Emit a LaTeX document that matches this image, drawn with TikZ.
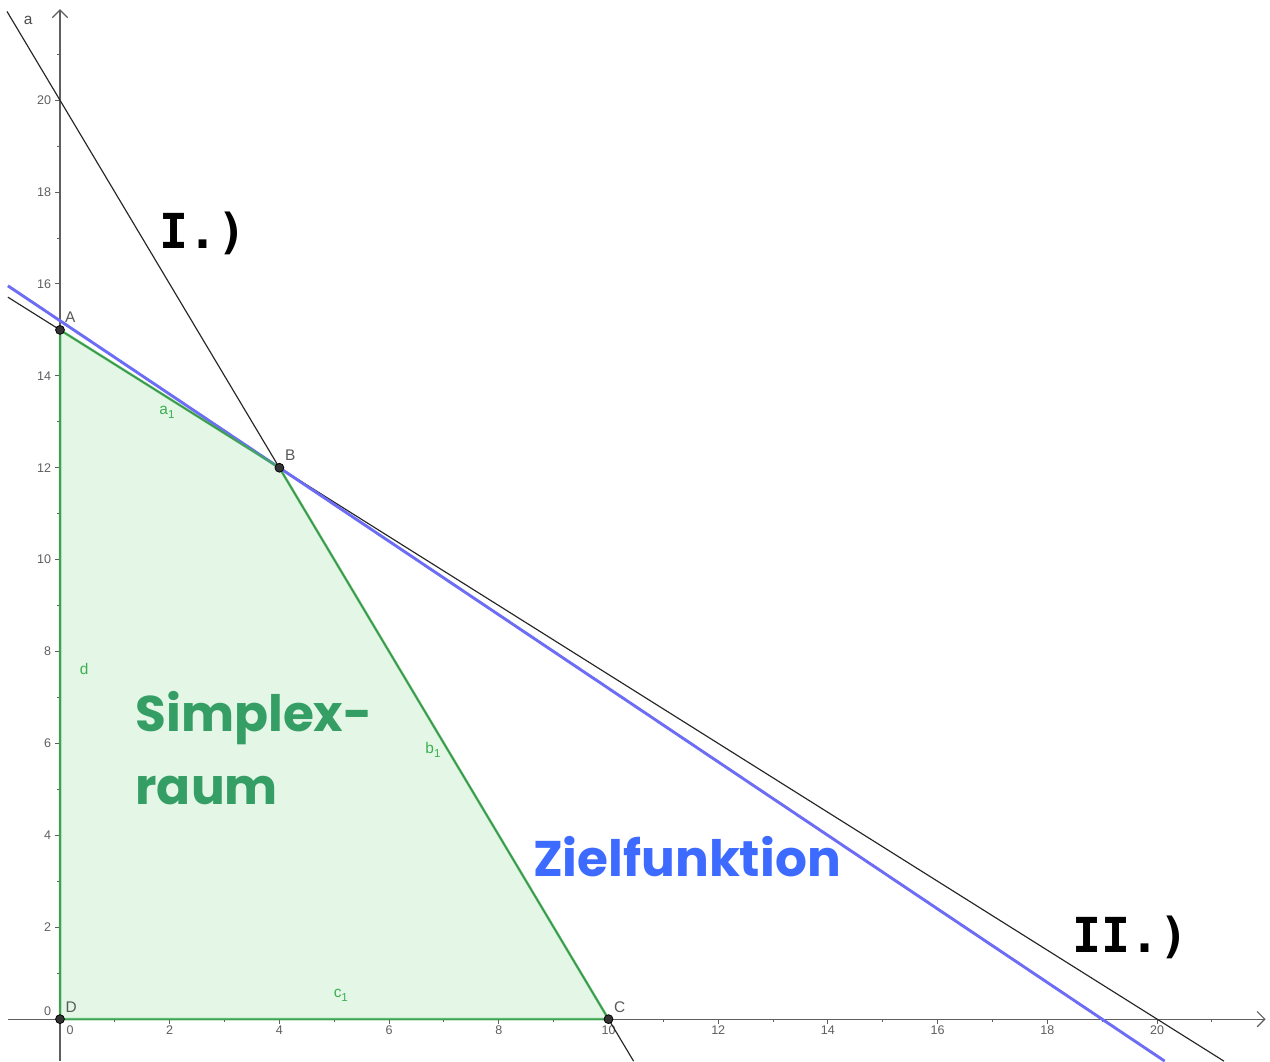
\documentclass[tikz,border=0pt]{standalone}
\usepackage{fontspec}
\setmainfont{Liberation Sans}
\newfontfamily\handfont{Poppins}
\newfontfamily\romfont{DejaVu Sans Mono}
\usepackage{xcolor}
\usepackage{tikz}
\usetikzlibrary{positioning, arrows.meta, calc}

\definecolor{axisgray}{RGB}{95,95,95}
\definecolor{edgegreen}{RGB}{60,175,80}
\definecolor{simplexfill}{RGB}{228,247,231}
\definecolor{simplextext}{RGB}{53,158,101}
\definecolor{zielline}{RGB}{108,108,245}
\definecolor{zieltext}{RGB}{61,107,255}

\begin{document}
\begin{tikzpicture}[
    x=1cm, y=0.8377cm,
    axis/.style={draw=axisgray, line width=0.6pt, -{Straight Barb[length=4pt, width=8pt]}},
    axtick/.style={draw=axisgray, line width=0.5pt},
    ticklabel/.style={font=\fontsize{6.5}{7}\selectfont, text=axisgray, inner sep=1pt},
    constraint/.style={draw=black!85, line width=0.6pt},
    zielgerade/.style={draw=zielline, line width=1.5pt},
    seite/.style={draw=edgegreen, draw opacity=0.8, line width=1.3pt},
    punkt/.style={circle, fill=black!80, draw=black, inner sep=0pt, minimum size=4.6pt},
    punktlabel/.style={font=\fontsize{8}{9}\selectfont, text=black!65, inner sep=1pt},
    seitenlabel/.style={font=\fontsize{8}{9}\selectfont, text=edgegreen, inner sep=0pt},
    bigtext/.style={font=\handfont\bfseries\fontsize{26}{38}\selectfont, inner sep=0pt},
    romtext/.style={font=\romfont\bfseries\fontsize{25}{30}\selectfont, inner sep=0pt},
]
\useasboundingbox[fill=white] (-1.094,-0.914) rectangle (22.06,22.18);

% corner points of the simplex
\coordinate (A) at (0,15);
\coordinate (B) at (4,12);
\coordinate (C) at (10,0);
\coordinate (D) at (0,0);

% Simplexraum
\fill[simplexfill] (A) -- (B) -- (C) -- (D) -- cycle;

% axes
\coordinate (xl) at (-0.95,0);
\coordinate (xr) at (21.98,0);
\coordinate (yb) at (0,-0.914);
\coordinate (yt) at (0,21.98);
\draw[axis] (xl) -- (xr);
\draw[axis] (yb) -- (yt);

\foreach \i in {1,3,...,21} {
    \draw[axtick] (\i,0) -- ++(0,-0.055);
    \draw[axtick] (0,\i) -- ++(-0.055,0);
}
\foreach \i in {2,4,...,20} {
    \draw[axtick] (\i,0) -- ++(0,-0.1);
    \draw[axtick] (0,\i) -- ++(-0.1,0);
    \node[ticklabel, anchor=north] (xn\i) at (\i,-0.1) {\i};
    \node[ticklabel, anchor=east] (yn\i) at (-0.12,\i) {\i};
}
\node[ticklabel, anchor=north west] (xn0) at (0.08,-0.1) {0};
\node[ticklabel, anchor=east] (yn0) at (-0.12,0.18) {0};

% constraint I.)
\coordinate (Itop) at (-0.966,21.93);
\coordinate (Ibot) at (10.457,-0.914);
\draw[constraint] (Itop) -- (Ibot);
\node[font=\fontsize{8}{9}\selectfont, text=black!70] (lina) at (-0.58,21.74) {a};

% constraint II.)
\coordinate (IIleft) at (-0.95,15.7125);
\coordinate (IIbot) at (21.22,-0.914);
\draw[constraint] (IIleft) -- (IIbot);

% Zielfunktion
\coordinate (Zleft) at (-0.95,15.96);
\coordinate (Zbot) at (20.14,-0.914);
\draw[zielgerade] (Zleft) -- (Zbot);

% sides of the simplex
\draw[seite] (A) -- (B) -- (C) -- (D) -- cycle;

% points
\node[punkt] (pA) at (A) {};
\node[punkt] (pB) at (B) {};
\node[punkt] (pC) at (C) {};
\node[punkt] (pD) at (D) {};
\node[punktlabel, anchor=south west] (lA) at (0.05,15.1) {A};
\node[punktlabel, anchor=south west] (lB) at (4.06,12.1) {B};
\node[punktlabel, anchor=south west] (lC) at (10.06,0.1) {C};
\node[punktlabel, anchor=south west] (lD) at (0.06,0.1) {D};

% side labels
\node[seitenlabel] (la1) at (1.95,13.2) {a\raisebox{-0.5ex}{\fontsize{6}{6}\selectfont 1}};
\node[seitenlabel] (lb1) at (6.8,5.85) {b\raisebox{-0.5ex}{\fontsize{6}{6}\selectfont 1}};
\node[seitenlabel] (lc1) at (5.12,0.52) {c\raisebox{-0.5ex}{\fontsize{6}{6}\selectfont 1}};
\node[seitenlabel] (ld) at (0.44,7.62) {d};

% big labels
\node[romtext] (eins) at (2.61,17.1) {I.)};
\node[romtext] (zwei) at (19.51,1.78) {II.)};
\node[bigtext, text=simplextext, align=left, anchor=west] (simplex) at (1.37,5.9) {Simplex-\\raum};
\node[bigtext, text=zieltext] (ziel) at (11.43,3.53) {Zielfunktion};
\end{tikzpicture}
\end{document}
